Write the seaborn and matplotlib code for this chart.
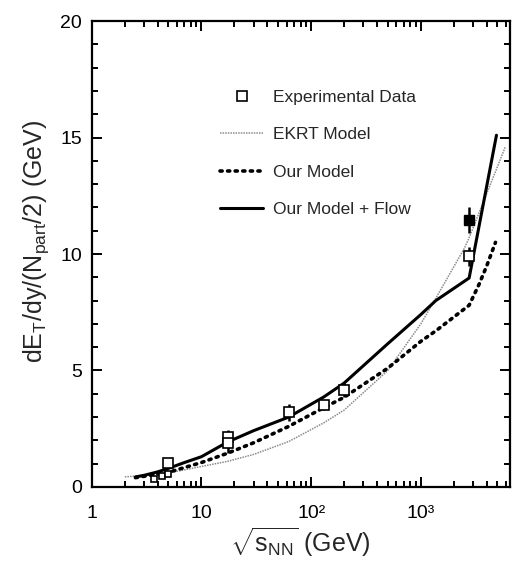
import matplotlib
matplotlib.use("Agg")
import matplotlib.pyplot as plt
import matplotlib.ticker as mticker
from matplotlib.lines import Line2D
import numpy as np
import pandas as pd
import seaborn as sns

# Experimental data (open squares) with vertical uncertainties
exp_x = [3.7, 4.4, 4.9, 5.0, 17.3, 17.3, 62.4, 130, 200, 2760]
exp_y = [0.35, 0.45, 0.55, 1.05, 2.15, 1.9, 3.2, 3.5, 4.15, 9.9]
exp_err = [0.05, 0.05, 0.05, 0.08, 0.3, 0.45, 0.35, 0.2, 0.3, 0.4]
exp_small = [True, True, True, False, False, False, False, False, False, False]

# LHC point drawn filled
lhc_x = [2760]
lhc_y = [11.45]
lhc_err = [0.55]

# EKRT model
ekrt_x = [2.0, 5, 10, 17.3, 30, 62.4, 130, 200, 500, 1000, 1370, 2500, 2760, 5900]
ekrt_y = [0.43, 0.6, 0.88, 1.1, 1.4, 1.95, 2.75, 3.3, 5.0, 7.0, 8.1, 10.25, 10.7, 14.6]

# Our model
our_x = [2.5, 5, 10, 17.3, 30, 62.4, 130, 200, 500, 1000, 1370, 2760, 3400, 4000, 4800]
our_y = [0.4, 0.63, 1.05, 1.45, 1.9, 2.6, 3.4, 3.85, 5.1, 6.25, 6.7, 7.8, 8.7, 9.5, 10.5]

# Our model + flow
flow_x = [2.5, 3, 4, 5, 7, 10, 17.3, 30, 62.4, 130, 200, 500, 1000, 1370, 2760, 4900]
flow_y = [0.43, 0.5, 0.65, 0.8, 1.05, 1.3, 1.93, 2.42, 3.0, 3.86, 4.46, 6.15, 7.4, 8.0, 8.97, 15.1]

x_ticks = [1, 10, 100, 1000]
x_ticklabels = ["1", "10", "10²", "10³"]
y_ticks = [0, 5, 10, 15, 20]

sns.set_style("ticks")
plt.rcParams["font.family"] = ["Liberation Sans", "DejaVu Sans"]
plt.rcParams["mathtext.fontset"] = "custom"
plt.rcParams["mathtext.rm"] = "Liberation Sans"
plt.rcParams["mathtext.it"] = "Liberation Sans"
plt.rcParams["mathtext.bf"] = "Liberation Sans:bold"

fig = plt.figure(figsize=(5.13, 5.62), dpi=100)
ax = fig.add_axes([0.179, 0.1335, 0.815, 0.829])

ekrt_df = pd.DataFrame({"x": ekrt_x, "y": ekrt_y})
our_df = pd.DataFrame({"x": our_x, "y": our_y})
flow_df = pd.DataFrame({"x": flow_x, "y": flow_y})

sns.lineplot(data=ekrt_df, x="x", y="y", ax=ax, color="#8c8c8c", lw=1.1,
             linestyle=(0, (1, 0.7)), sort=False, estimator=None)
sns.lineplot(data=our_df, x="x", y="y", ax=ax, color="black", lw=2.6,
             linestyle=(0, (0.6, 1.5)), dash_capstyle="round", sort=False, estimator=None)
sns.lineplot(data=flow_df, x="x", y="y", ax=ax, color="black", lw=2.2,
             sort=False, estimator=None)

# experimental points
for xv, yv, ev, small in zip(exp_x, exp_y, exp_err, exp_small):
    ax.errorbar([xv], [yv], yerr=[ev], fmt="s", ms=5 if small else 7.5,
                mfc="white", mec="black", mew=1.2, ecolor="black", elinewidth=1.8,
                capsize=0, zorder=5)
ax.errorbar(lhc_x, lhc_y, yerr=lhc_err, fmt="s", ms=7.5, mfc="black", mec="black",
            ecolor="black", elinewidth=1.8, capsize=0, zorder=5)

ax.set_xscale("log")
ax.set_xlim(1, 6500)
ax.set_ylim(0, 20)
ax.set_xticks(x_ticks)
ax.set_xticklabels(x_ticklabels)
ax.xaxis.set_minor_locator(mticker.LogLocator(base=10, subs=np.arange(2, 10)))
ax.xaxis.set_minor_formatter(mticker.NullFormatter())
ax.set_yticks(y_ticks)
ax.yaxis.set_minor_locator(mticker.MultipleLocator(1))

ax.tick_params(which="both", direction="in", top=True, right=True, width=1.4,
               labelsize=14, colors="black")
ax.tick_params(which="major", length=7)
ax.tick_params(which="minor", length=4)
ax.tick_params(axis="x", which="major", pad=13)
ax.tick_params(axis="y", which="major", pad=7)
for sp in ax.spines.values():
    sp.set_linewidth(1.6)
    sp.set_color("black")

ax.set_xlabel(r"$\sqrt{\mathrm{s}_{\mathrm{NN}}}$ (GeV)", fontsize=18, labelpad=3)
ax.set_ylabel(r"dE$_\mathrm{T}$/dy/(N$_\mathrm{part}$/2) (GeV)", fontsize=18, labelpad=7)
ax.yaxis.label.set_y(0.528)

handles = [
    Line2D([], [], ls="none", marker="s", ms=6.5, mfc="white", mec="black", mew=1.2),
    Line2D([], [], color="#8c8c8c", lw=1.1, ls=(0, (1, 0.7))),
    Line2D([], [], color="black", lw=2.6, ls=(0, (0.6, 1.5)), dash_capstyle="round"),
    Line2D([], [], color="black", lw=2.2),
]
labels = ["Experimental Data", "EKRT Model", "Our Model", "Our Model + Flow"]
ax.legend(handles, labels, loc="upper left", bbox_to_anchor=(0.307, 0.852),
          frameon=False, fontsize=12.5, handlelength=2.47, handletextpad=0.57,
          labelspacing=1.27, borderpad=0, borderaxespad=0)

fig.savefig("out.png", dpi=100)
